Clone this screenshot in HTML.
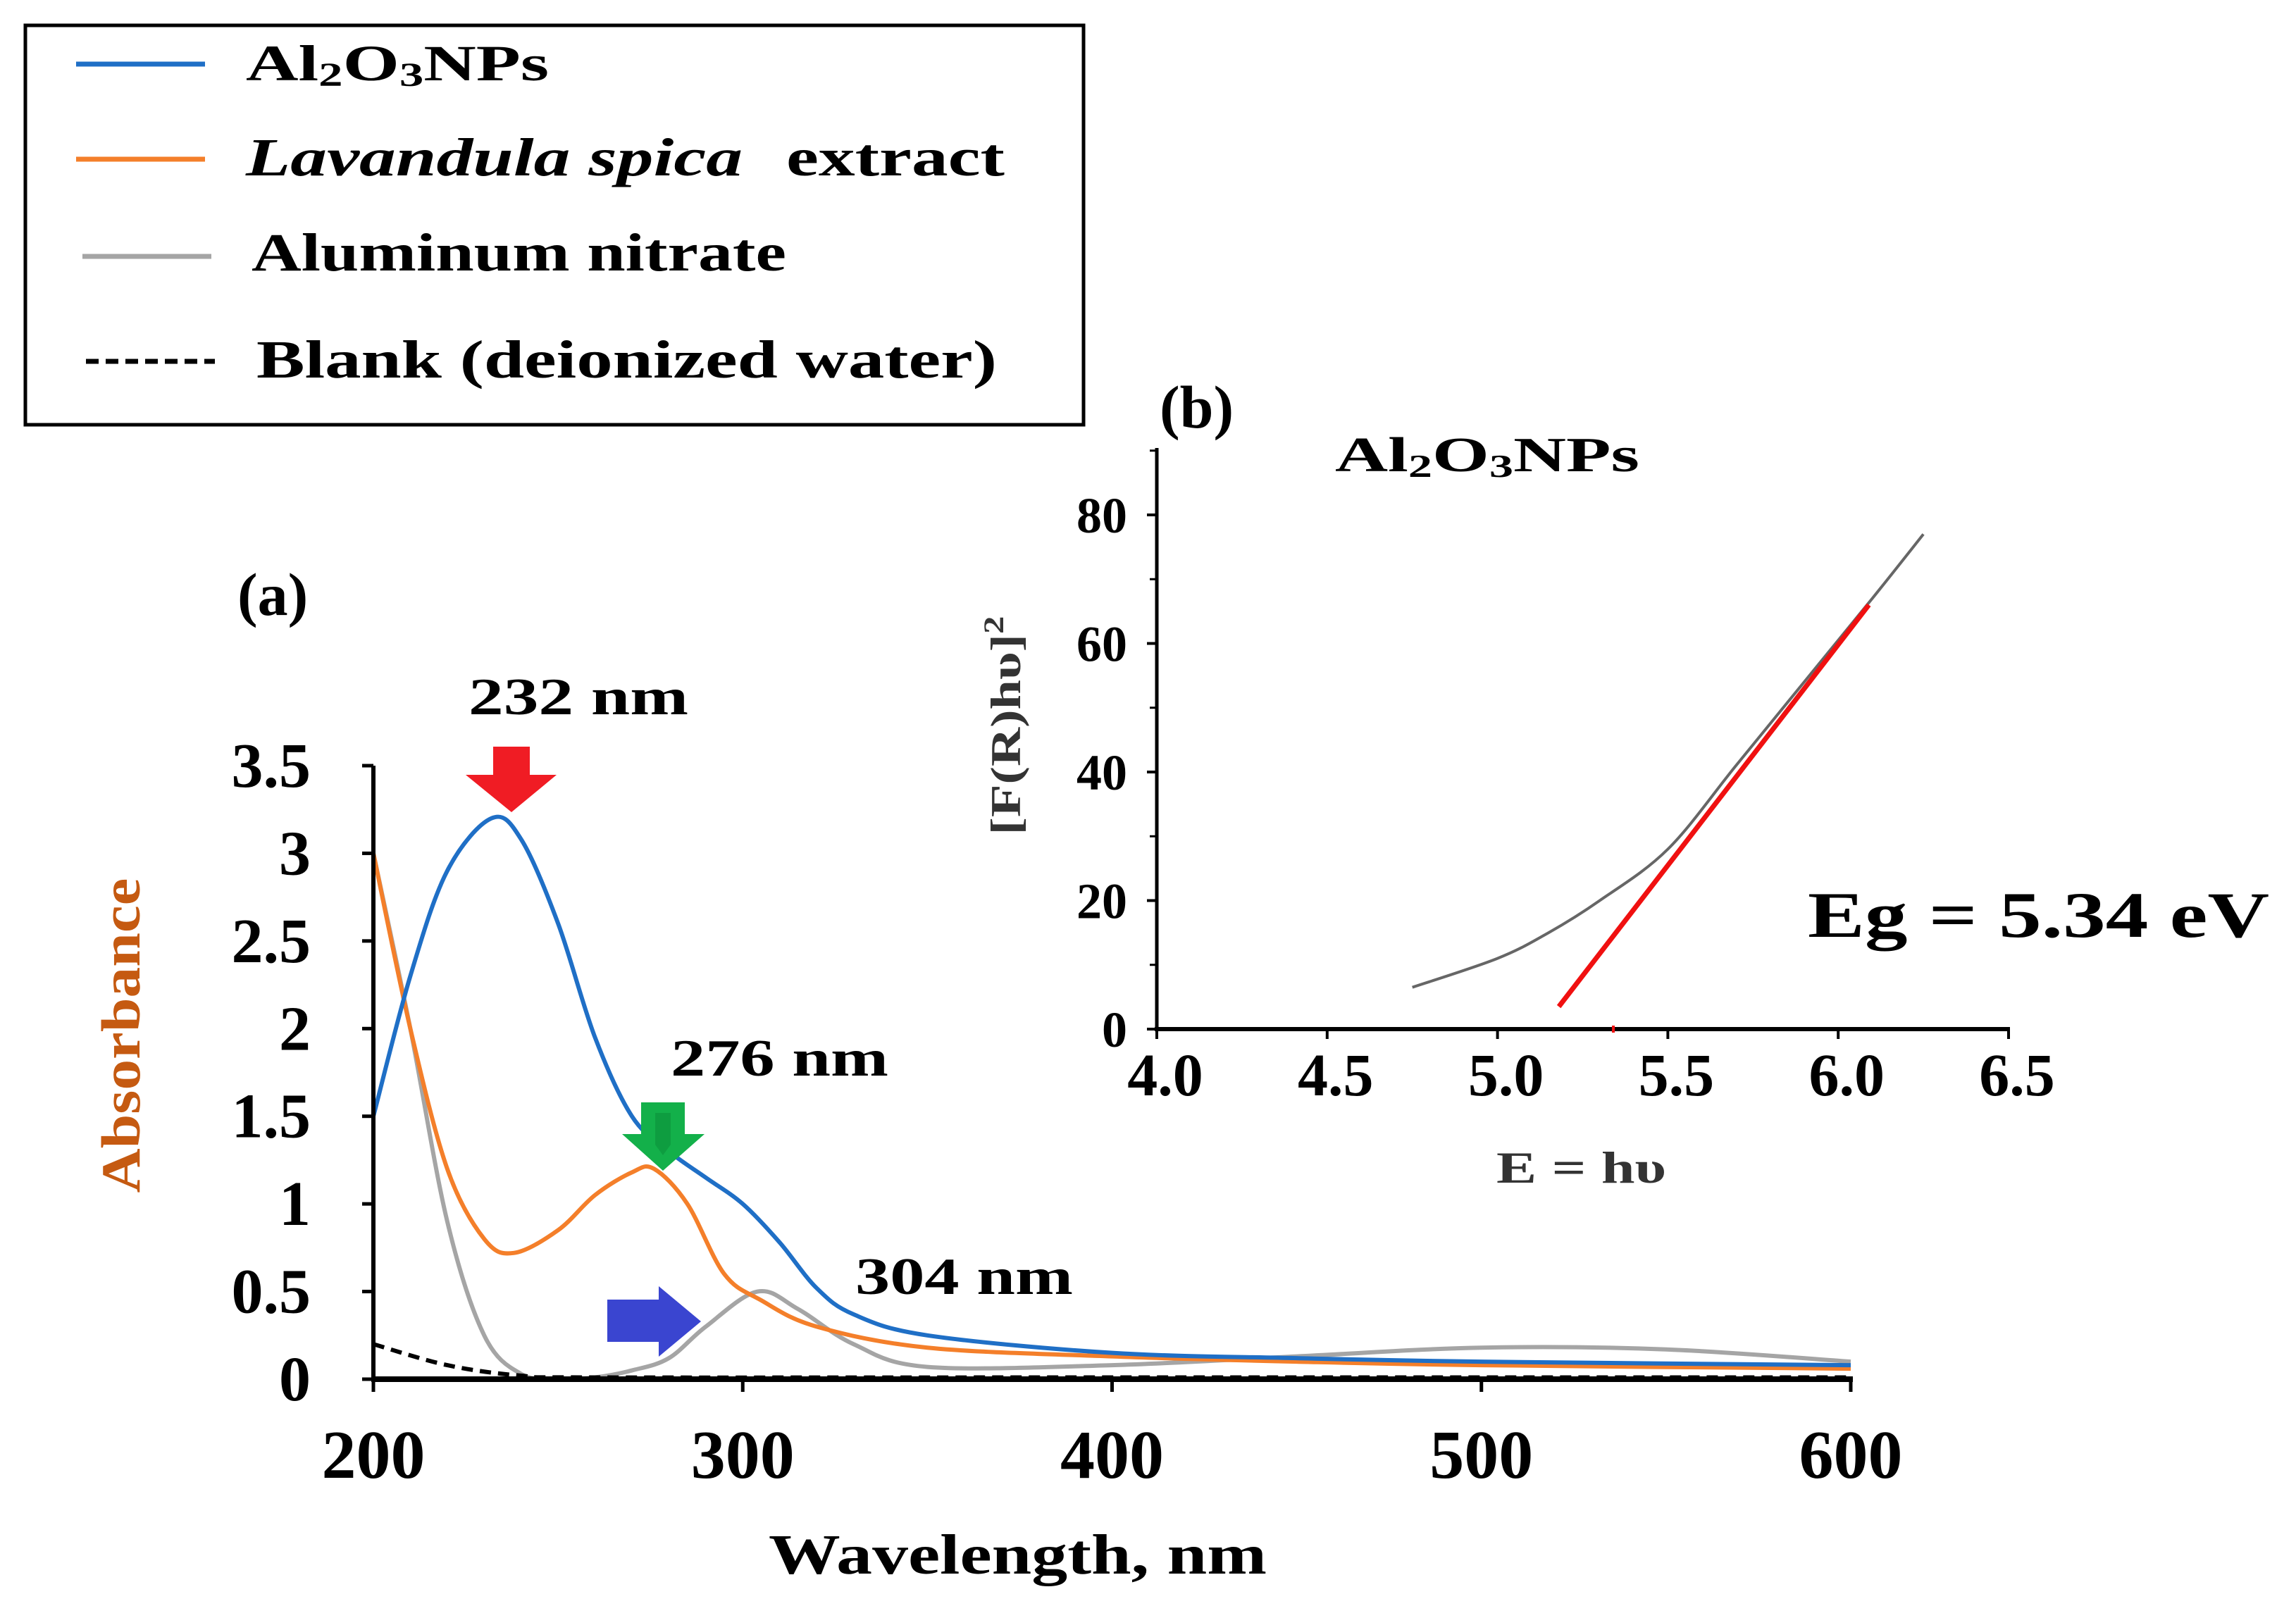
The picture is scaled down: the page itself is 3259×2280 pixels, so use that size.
<!DOCTYPE html>
<html><head><meta charset="utf-8"><style>
html,body{margin:0;padding:0;background:#fff;}
svg{display:block;font-family:"Liberation Serif",serif;font-weight:bold;}
</style></head><body>
<svg id="fig" width="3259" height="2280" viewBox="0 0 3259 2280">
<rect x="36" y="36" width="1502" height="567" fill="#fff" stroke="#000" stroke-width="5"/>
<g>
<line x1="108" y1="91" x2="291" y2="91" stroke="#1f6fc6" stroke-width="7"/>
<text x="349" y="114" font-size="72" textLength="430" lengthAdjust="spacingAndGlyphs">Al<tspan font-size="48" dy="8">2</tspan><tspan dy="-8">O</tspan><tspan font-size="48" dy="8">3</tspan><tspan dy="-8">NPs</tspan></text>
</g>
<g>
<line x1="108" y1="226" x2="291" y2="226" stroke="#f47f2a" stroke-width="7"/>
<text x="349" y="249" font-size="76" font-style="italic" textLength="705" lengthAdjust="spacingAndGlyphs">Lavandula spica</text>
<text x="1116" y="249" font-size="76" textLength="310" lengthAdjust="spacingAndGlyphs">extract</text>
</g>
<g>
<line x1="117" y1="364" x2="300" y2="364" stroke="#a5a5a5" stroke-width="7"/>
<text x="357" y="384" font-size="76" textLength="759" lengthAdjust="spacingAndGlyphs">Aluminum nitrate</text>
</g>
<g>
<line x1="122" y1="513" x2="305" y2="513" stroke="#000" stroke-width="7" stroke-dasharray="18,10"/>
<text x="364" y="536" font-size="76" textLength="1051" lengthAdjust="spacingAndGlyphs">Blank (deionized water)</text>
</g>

<g id="main"></g>
<g id="inset"></g>

<text x="337" y="873" font-size="86">(a)</text>
<text x="665" y="1014" font-size="74" textLength="312" lengthAdjust="spacingAndGlyphs">232 nm</text>
<text x="952" y="1527" font-size="74" textLength="309" lengthAdjust="spacingAndGlyphs">276 nm</text>
<text x="1214" y="1837" font-size="74" textLength="309" lengthAdjust="spacingAndGlyphs">304 nm</text>
<path d="M700,1060 H752 V1100 H790 L726,1153 L661,1100 H700 Z" fill="#f01c24"/>
<path d="M910,1565 H972 V1610 H1000 L941,1662 L883,1610 H910 Z" fill="#13b04a"/>
<path d="M930,1580 H952 V1625 L941,1640 L930,1625 Z" fill="#0a8a35" opacity="0.5"/>
<path d="M862,1845 H935 V1826 L995,1876 L935,1926 V1905 H862 Z" fill="#3a45d0"/>
<text x="1091" y="2234" font-size="80" textLength="707" lengthAdjust="spacingAndGlyphs">Wavelength, nm</text>
<text transform="translate(198,1470) rotate(-90)" text-anchor="middle" font-size="78" fill="#c55a11" textLength="447" lengthAdjust="spacingAndGlyphs">Absorbance</text>

<text x="1646" y="607" font-size="86">(b)</text>
<text x="1895" y="669" font-size="70" textLength="432" lengthAdjust="spacingAndGlyphs">Al<tspan font-size="46" dy="8">2</tspan><tspan dy="-8">O</tspan><tspan font-size="46" dy="8">3</tspan><tspan dy="-8">NPs</tspan></text>
<text x="2124" y="1679" font-size="64" fill="#333" textLength="241" lengthAdjust="spacingAndGlyphs">E = hυ</text>
<text transform="translate(1448,1030) rotate(-90)" text-anchor="middle" font-size="60" fill="#333" textLength="311" lengthAdjust="spacingAndGlyphs">[F(R)hυ]<tspan font-size="40" dy="-24">2</tspan></text>
<text x="2566" y="1330" font-size="92" textLength="655" lengthAdjust="spacingAndGlyphs">Eg = 5.34 eV</text>
</svg>
<script>
const NS="http://www.w3.org/2000/svg";
// main chart data
const wlX=[200,210,220,232,240,250,260,270,280,290,300,310,320,330,350,400,450,500,600];
const absAl2O3=[1.5,2.3,2.9,3.2,3.08,2.6,1.95,1.5,1.3,1.15,1.0,0.78,0.52,0.37,0.25,0.15,0.12,0.1,0.08];
const wlLav=[200,210,220,230,238,250,260,270,276,285,295,305,320,350,400,450,500,600];
const absLav=[3.0,2.0,1.2,0.8,0.72,0.85,1.05,1.18,1.2,1.0,0.6,0.45,0.3,0.18,0.13,0.1,0.08,0.06];
const wlNit=[200,210,220,230,240,250,260,270,280,290,304,315,330,350,400,450,500,550,600];
const absNit=[3.0,2.0,0.9,0.25,0.03,0.0,0.01,0.05,0.12,0.3,0.5,0.4,0.2,0.07,0.08,0.13,0.18,0.17,0.1];
const wlBlank=[200,220,240,260,400,600];
const absBlank=[0.2,0.08,0.02,0.01,0.01,0.01];
const xTicks=[200,300,400,500,600];
const yTicks=[0,0.5,1,1.5,2,2.5,3,3.5];
const yTickLabels=["0","0.5","1","1.5","2","2.5","3","3.5"];
// inset data
const eX=[4.75,5.0,5.15,5.3,5.5,5.7,5.9,6.1,6.25];
const fY=[6.5,11,15,20,28,41,54,67,77];
const fitE=[5.18,6.09];
const fitF=[3.5,66];
const eTicks=[4.0,4.5,5.0,5.5,6.0,6.5];
const eTickLabels=["4.0","4.5","5.0","5.5","6.0","6.5"];
const fTicks=[0,20,40,60,80];
const fMinor=[10,30,50,70,90];
const egValue=5.34;

const mx=v=>530+(v-200)*(2627-530)/400;
const my=v=>1958-v*(1958-1087)/3.5;
const ix=v=>1642+(v-4)*(2851-1642)/2.5;
const iy=v=>1461-v*(1461-731)/80;

function el(tag,attrs,parent){const e=document.createElementNS(NS,tag);for(const k in attrs)e.setAttribute(k,attrs[k]);parent.appendChild(e);return e;}
function smooth(xs,ys,fx,fy){
  const p=xs.map((x,i)=>[fx(x),fy(ys[i])]);
  let d="M"+p[0][0]+","+p[0][1];
  for(let i=0;i<p.length-1;i++){
    const p0=p[i-1]||p[i],p1=p[i],p2=p[i+1],p3=p[i+2]||p2;
    const c1=[p1[0]+(p2[0]-p0[0])/6,p1[1]+(p2[1]-p0[1])/6];
    const c2=[p2[0]-(p3[0]-p1[0])/6,p2[1]-(p3[1]-p1[1])/6];
    d+=" C"+c1[0]+","+c1[1]+" "+c2[0]+","+c2[1]+" "+p2[0]+","+p2[1];
  }
  return d;
}
const main=document.getElementById('main');
const series=[[wlNit,absNit,'#a5a5a5','series-aluminum-nitrate',''],[wlLav,absLav,'#f47f2a','series-lavandula',''],[wlX,absAl2O3,'#1f6fc6','series-al2o3',''],[wlBlank,absBlank,'#000','series-blank','16,10']];
series.forEach(s=>{
  const p=el('path',{d:smooth(s[0],s[1],mx,my),fill:'none',stroke:s[2],'stroke-width':6},main);
  if(s[4])p.setAttribute('stroke-dasharray',s[4]);
  
  
});
const ya=el('line',{x1:530,y1:1087,x2:530,y2:1958,stroke:'#000','stroke-width':6},main);


const xa=el('line',{x1:527,y1:1958,x2:2630,y2:1958,stroke:'#000','stroke-width':8},main);


yTicks.forEach((v,i)=>{
  el('line',{x1:514,y1:my(v),x2:530,y2:my(v),stroke:'#000','stroke-width':5},main);
  const t=el('text',{x:441,y:my(v)+30,'text-anchor':'end','font-size':90},main);
  t.textContent=yTickLabels[i];
  
  
});
xTicks.forEach(v=>{
  el('line',{x1:mx(v),y1:1958,x2:mx(v),y2:1976,stroke:'#000','stroke-width':5},main);
  const t=el('text',{x:mx(v),y:2098,'text-anchor':'middle','font-size':98},main);
  t.textContent=v;
  
  
});
const inset=document.getElementById('inset');
const ic=el('path',{d:smooth(eX,fY,ix,iy),fill:'none',stroke:'#666','stroke-width':4},inset);


const fl=el('line',{x1:ix(fitE[0]),y1:iy(fitF[0]),x2:ix(fitE[1]),y2:iy(fitF[1]),stroke:'#f01010','stroke-width':7},inset);


const iya=el('line',{x1:1642,y1:636,x2:1642,y2:1461,stroke:'#000','stroke-width':5},inset);


const ixa=el('line',{x1:1639,y1:1461,x2:2853,y2:1461,stroke:'#000','stroke-width':6},inset);


fTicks.forEach(v=>{
  el('line',{x1:1628,y1:iy(v),x2:1642,y2:iy(v),stroke:'#000','stroke-width':4},inset);
  const t=el('text',{x:1600,y:iy(v)+25,'text-anchor':'end','font-size':72},inset);
  t.textContent=v;
  
  
});
fMinor.forEach(v=>{el('line',{x1:1632,y1:iy(v),x2:1642,y2:iy(v),stroke:'#000','stroke-width':3},inset);});
eTicks.forEach((v,i)=>{
  el('line',{x1:ix(v),y1:1461,x2:ix(v),y2:1475,stroke:'#000','stroke-width':4},inset);
  const t=el('text',{x:ix(v)+12,y:1555,'text-anchor':'middle','font-size':86},inset);
  t.textContent=eTickLabels[i];
  
  
});
const eg=el('line',{x1:ix(egValue),y1:1456,x2:ix(egValue),y2:1466,stroke:'#f01010','stroke-width':4},inset);


</script>
</body></html>
